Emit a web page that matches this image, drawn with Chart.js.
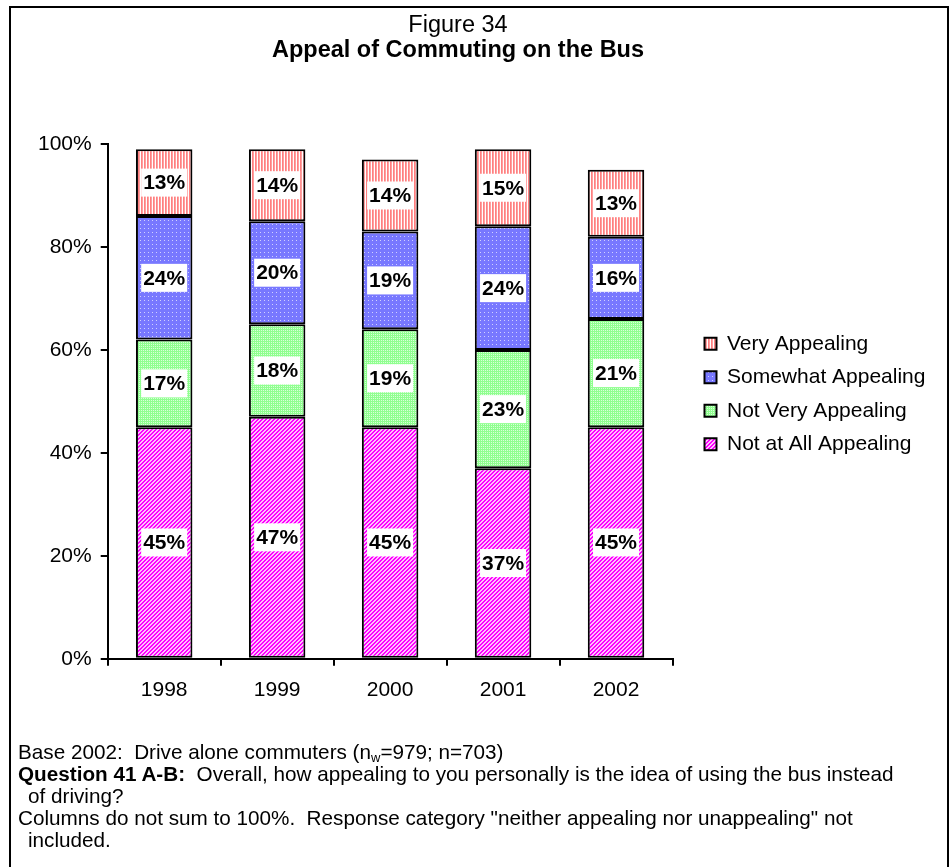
<!DOCTYPE html>
<html>
<head>
<meta charset="utf-8">
<script src="https://cdn.jsdelivr.net/npm/chart.js@4.4.1/dist/chart.umd.min.js"></script>
<style>
  body { margin: 0; background: #fff; font-family: "Liberation Sans", Arial, sans-serif; color: #000; }
  #chart { position: absolute; left: 0; top: 0; }
  #frame { position: absolute; left: 9px; top: 6px; width: 936px; height: 900px; border: 2px solid #000; border-bottom: none; pointer-events: none; }
  #notes { position: absolute; left: 8px; top: 741px; width: 905px; font-size: 20.7px; line-height: 22px; }
  #notes .p { padding-left: 20px; text-indent: -10px; }
  #notes sub { font-size: 13px; vertical-align: -3px; line-height: 0; }
</style>
</head>
<body>
<canvas id="chart" width="952" height="730"></canvas>
<div id="frame"></div>
<div id="notes">
  <div class="p">Base 2002:&nbsp; Drive alone commuters (n<sub>w</sub>=979; n=703)</div>
  <div class="p"><b>Question 41 A-B:</b>&nbsp; Overall, how appealing to you personally is the idea of using the bus instead of driving?</div>
  <div class="p">Columns do not sum to 100%.&nbsp; Response category "neither appealing nor unappealing" not included.</div>
</div>
<script>
  // chart values
  const years = ['1998', '1999', '2000', '2001', '2002'];
  const notAtAll = [45, 47, 45, 37, 45];
  const notVery = [17, 18, 19, 23, 21];
  const somewhat = [24, 20, 19, 24, 16];
  const very = [13, 14, 14, 15, 13];
  const yTicks = [0, 20, 40, 60, 80, 100];

  Chart.defaults.font.family = '"Liberation Sans", Arial, sans-serif';
  Chart.defaults.color = '#000';

  // small repeating fills like the old Excel patterns
  function makePattern(w, h, paint) {
    const c = document.createElement('canvas');
    c.width = w; c.height = h;
    const g = c.getContext('2d');
    for (let y = 0; y < h; y++) {
      for (let x = 0; x < w; x++) {
        g.fillStyle = paint(x, y);
        g.fillRect(x, y, 1, 1);
      }
    }
    return g.createPattern(c, 'repeat');
  }

  const pinkStripes = makePattern(3, 1, x => ['#ff8080', '#ffa0a0', '#ffffff'][x]);
  const blueDots = makePattern(4, 4, (x, y) => (x === 0 && y === 0) ? '#d0d0ff' : '#7878ff');
  const greenGrid = makePattern(4, 2, (x, y) => (y === 0 && x % 2 === 1) ? '#d8ffd8' : '#90ff90');
  const magentaDiag = makePattern(4, 4, (x, y) => ((x + y) % 4 < 2) ? '#ff00ff' : '#ffc0ff');

  // white boxed value labels in the middle of each segment
  const valueLabels = {
    id: 'valueLabels',
    afterDatasetsDraw(chart) {
      const ctx = chart.ctx;
      ctx.save();
      ctx.font = 'bold 21px "Liberation Sans", Arial, sans-serif';
      ctx.textAlign = 'center';
      ctx.textBaseline = 'middle';
      chart.data.datasets.forEach((ds, i) => {
        chart.getDatasetMeta(i).data.forEach((bar, j) => {
          const p = bar.getProps(['x', 'y', 'base'], true);
          const cy = (p.y + p.base) / 2;
          const txt = ds.data[j] + '%';
          const w = ctx.measureText(txt).width + 4;
          ctx.fillStyle = '#fff';
          ctx.fillRect(p.x - w / 2, cy - 14, w, 28);
          ctx.fillStyle = '#000';
          ctx.fillText(txt, p.x, cy + 1);
        });
      });
      ctx.restore();
    }
  };

  // move the legend right of the plot and down to where the original sits
  const legendNudge = {
    id: 'legendNudge',
    afterLayout(chart) {
      const lg = chart.legend;
      lg.left += 19.5;
      lg.right = chart.width;
      lg.top += 36.5; lg.bottom += 36.5;
    }
  };

  const seg = (label, data, fill) => ({
    label: label,
    data: data,
    backgroundColor: fill,
    borderColor: '#000',
    borderWidth: 2,
    borderSkipped: false
  });

  new Chart(document.getElementById('chart'), {
    type: 'bar',
    data: {
      labels: years,
      datasets: [
        seg('Not at All Appealing', notAtAll, magentaDiag),
        seg('Not Very Appealing', notVery, greenGrid),
        seg('Somewhat Appealing', somewhat, blueDots),
        seg('Very Appealing', very, pinkStripes)
      ]
    },
    options: {
      responsive: false,
      animation: false,
      events: [],
      datasets: { bar: { barPercentage: 1, categoryPercentage: 0.5 } },
      layout: { padding: { left: 29, right: 65, top: 0, bottom: 15 } },
      plugins: {
        title: {
          display: true,
          text: 'Figure 34',
          font: { size: 23.5, weight: 'normal', lineHeight: 1 },
          padding: { top: 14, bottom: 0 }
        },
        subtitle: {
          display: true,
          text: 'Appeal of Commuting on the Bus',
          color: '#000',
          font: { size: 23.5, weight: 'bold', lineHeight: 1 },
          padding: { top: 1, bottom: 82 }
        },
        legend: {
          position: 'right',
          reverse: true,
          labels: {
            boxWidth: 12,
            boxHeight: 12,
            padding: 12.5,
            font: { size: 21 },
            color: '#000'
          }
        },
        tooltip: { enabled: false }
      },
      scales: {
        x: {
          stacked: true,
          offset: true,
          grid: { offset: true, drawOnChartArea: false, tickLength: 7, color: '#000', lineWidth: 2 },
          border: { color: '#000', width: 2 },
          ticks: { font: { size: 21 }, padding: 12, maxRotation: 0 }
        },
        y: {
          stacked: true,
          min: 0,
          max: 100,
          afterBuildTicks: s => { s.ticks = yTicks.map(v => ({ value: v })); },
          grid: { drawOnChartArea: false, tickLength: 7, color: '#000', lineWidth: 2 },
          border: { color: '#000', width: 2 },
          ticks: { font: { size: 21 }, padding: 9, callback: v => v + '%' }
        }
      }
    },
    plugins: [valueLabels, legendNudge]
  });
</script>
</body>
</html>
